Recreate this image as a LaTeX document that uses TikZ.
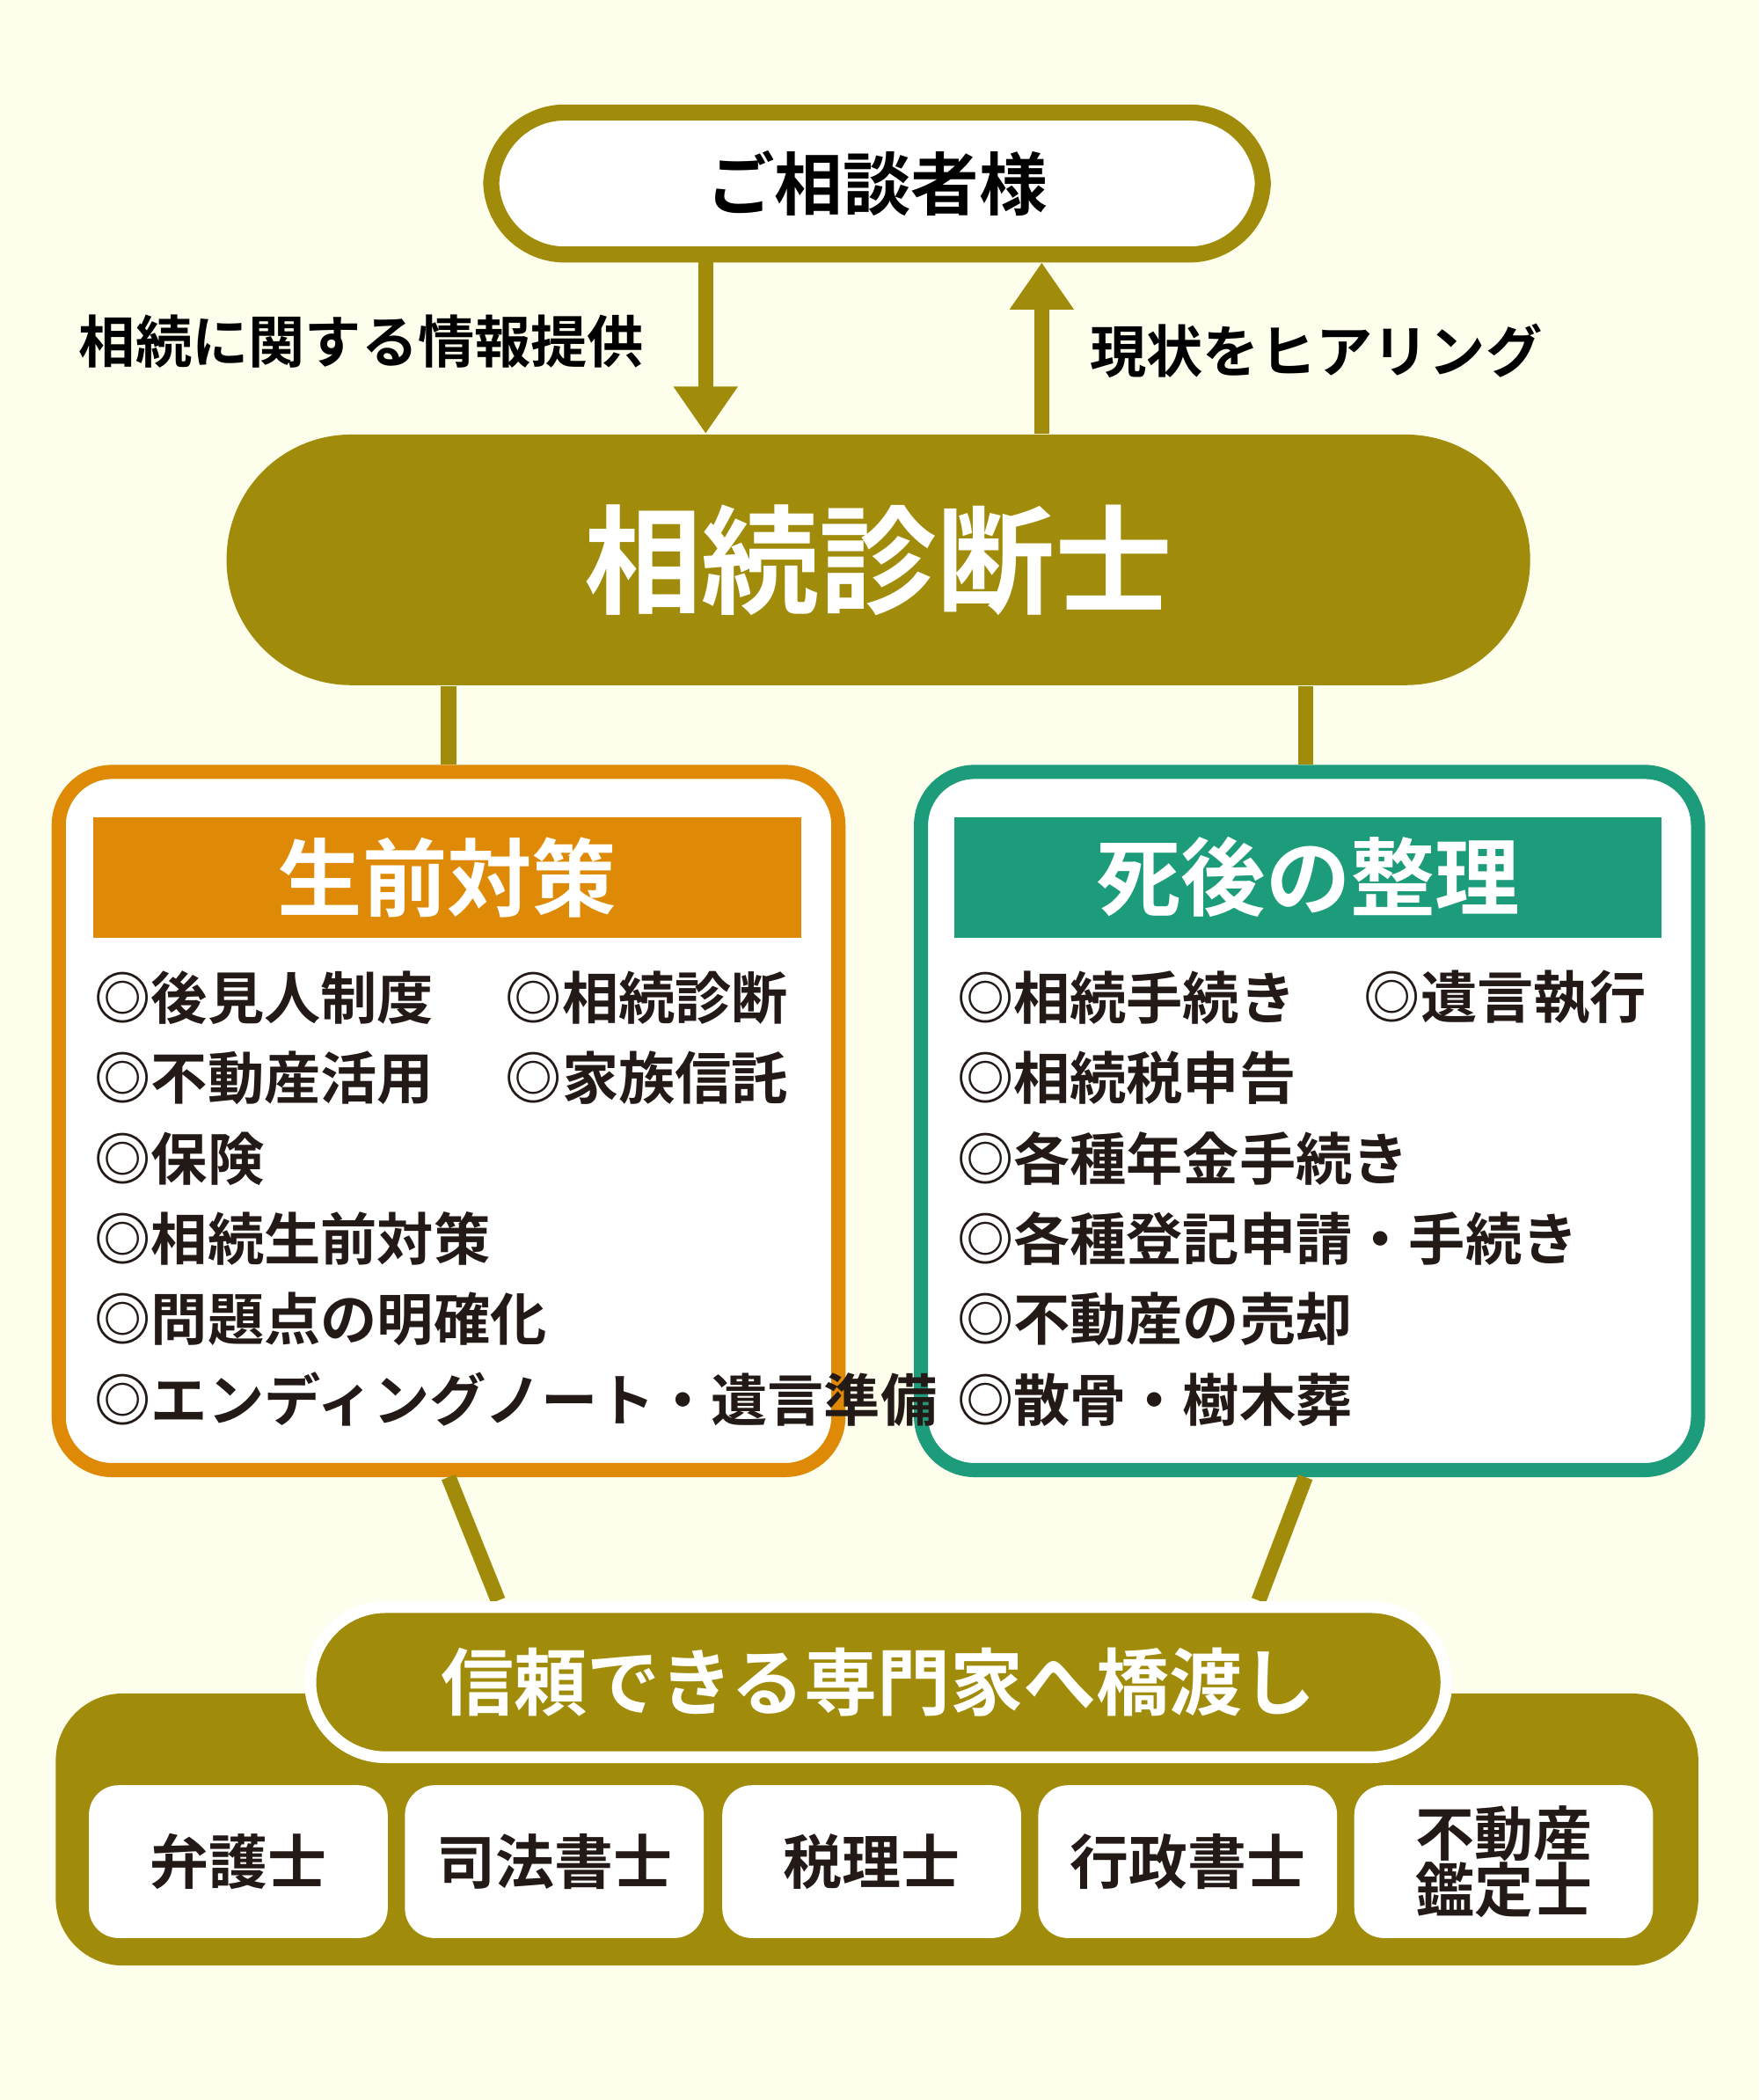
\documentclass[tikz,border=0pt]{standalone}
\usepackage{fontspec}
\setmainfont{Noto Sans CJK JP}[BoldFont={Noto Sans CJK JP Bold}]
\usetikzlibrary{positioning,arrows.meta}
\definecolor{olive}{RGB}{160,140,10}
\definecolor{bgc}{RGB}{254,254,236}
\definecolor{orng}{RGB}{222,138,6}
\definecolor{teal2}{RGB}{28,156,122}
\definecolor{ink}{RGB}{35,25,22}
\begin{document}
\begin{tikzpicture}[x=0.01cm,y=-0.01cm,
  pill/.style={rounded corners=#1,inner sep=0pt},
  item/.style={anchor=west,inner sep=0pt,font=\fontsize{12}{14}\selectfont\bfseries,text=ink},
  pro/.style={fill=white,rounded corners=0.22cm,minimum width=2.23cm,minimum height=1.14cm,inner sep=0pt,
    font=\fontsize{12.5}{12}\selectfont\bfseries,text=ink,align=center},
  lbl/.style={font=\fontsize{12}{14}\selectfont\bfseries,text=black,inner sep=0pt}]
  \fill[bgc] (0,0) rectangle (1314,1568);
  % client and diagnostician
  \node[pill=0.55cm,draw=olive,line width=3.4pt,fill=white,minimum width=5.76cm,minimum height=1.06cm,
    font=\fontsize{14.5}{16}\selectfont\bfseries] (client) at (655,137) {ご相談者様};
  \node[pill=0.93cm,fill=olive,minimum width=9.73cm,minimum height=1.87cm,text=white,
    font=\fontsize{25}{28}\selectfont\bfseries] (diag) at (656,418) {相続診断士};
  \draw[olive,line width=3.2pt,-{Triangle[width=13pt,length=10pt]}] (client.south-|527,0) -- (diag.north-|527,0);
  \draw[olive,line width=3.2pt,-{Triangle[width=13pt,length=10pt]}] (diag.north-|778,0) -- (client.south-|778,0);
  \node[lbl] (info) at (270,255) {相続に関する情報提供};
  \node[lbl] (hear) at (983,262) {現状をヒアリング};
  % two columns
  \node[draw=orng,line width=3pt,fill=white,rounded corners=0.4cm,minimum width=5.82cm,minimum height=5.21cm,inner sep=0pt] (pre) at (335,837) {};
  \node[draw=teal2,line width=3pt,fill=white,rounded corners=0.4cm,minimum width=5.8cm,minimum height=5.21cm,inner sep=0pt] (post) at (978,837) {};
  \draw[olive,line width=3.2pt] (diag.south-|335,0) -- (pre.north-|335,0);
  \draw[olive,line width=3.2pt] (diag.south-|975,0) -- (post.north-|975,0);
  \node[fill=orng,minimum width=5.28cm,minimum height=0.9cm,inner sep=0pt,text=white,
    font=\fontsize{18}{20}\selectfont\bfseries] (preh) at (334,655) {生前対策};
  \node[fill=teal2,minimum width=5.28cm,minimum height=0.9cm,inner sep=0pt,text=white,
    font=\fontsize{18}{20}\selectfont\bfseries] (posth) at (977,655) {死後の整理};
  \foreach \t [count=\i] in {◎後見人制度,◎不動産活用,◎保険,◎相続生前対策,◎問題点の明確化,◎エンディングノート・遺言準備}
    \node[item] (p\i) at (70,685+60*\i) {\t};
  \node[item] (p7) at (377,745) {◎相続診断};
  \node[item] (p8) at (377,805) {◎家族信託};
  \foreach \t [count=\i] in {◎相続手続き,◎相続税申告,◎各種年金手続き,◎各種登記申請・手続き,◎不動産の売却,◎散骨・樹木葬}
    \node[item] (q\i) at (714,685+60*\i) {\t};
  \node[item] (q7) at (1018,745) {◎遺言執行};
  % bridge to specialists
  \node[fill=olive,rounded corners=0.5cm,minimum width=12.26cm,minimum height=2.03cm,inner sep=0pt] (base) at (655,1366) {};
  \draw[olive,line width=3.2pt] (pre.south-|335,0) -- (372,1195);
  \draw[olive,line width=3.2pt] (post.south-|975,0) -- (940,1195);
  \node[pill=0.56cm,draw=white,line width=2.5pt,fill=olive,minimum width=8.48cm,minimum height=1.12cm,text=white,
    font=\fontsize{15.5}{18}\selectfont\bfseries] (bridge) at (656,1256) {信頼できる専門家へ橋渡し};
  \node[pro] (s1) at (178,1390) {弁護士};
  \node[pro] (s2) at (414,1390) {司法書士};
  \node[pro] (s3) at (651,1390) {税理士};
  \node[pro] (s4) at (887,1390) {行政書士};
  \node[pro] (s5) at (1123,1390) {不動産\\鑑定士};
\end{tikzpicture}
\end{document}
